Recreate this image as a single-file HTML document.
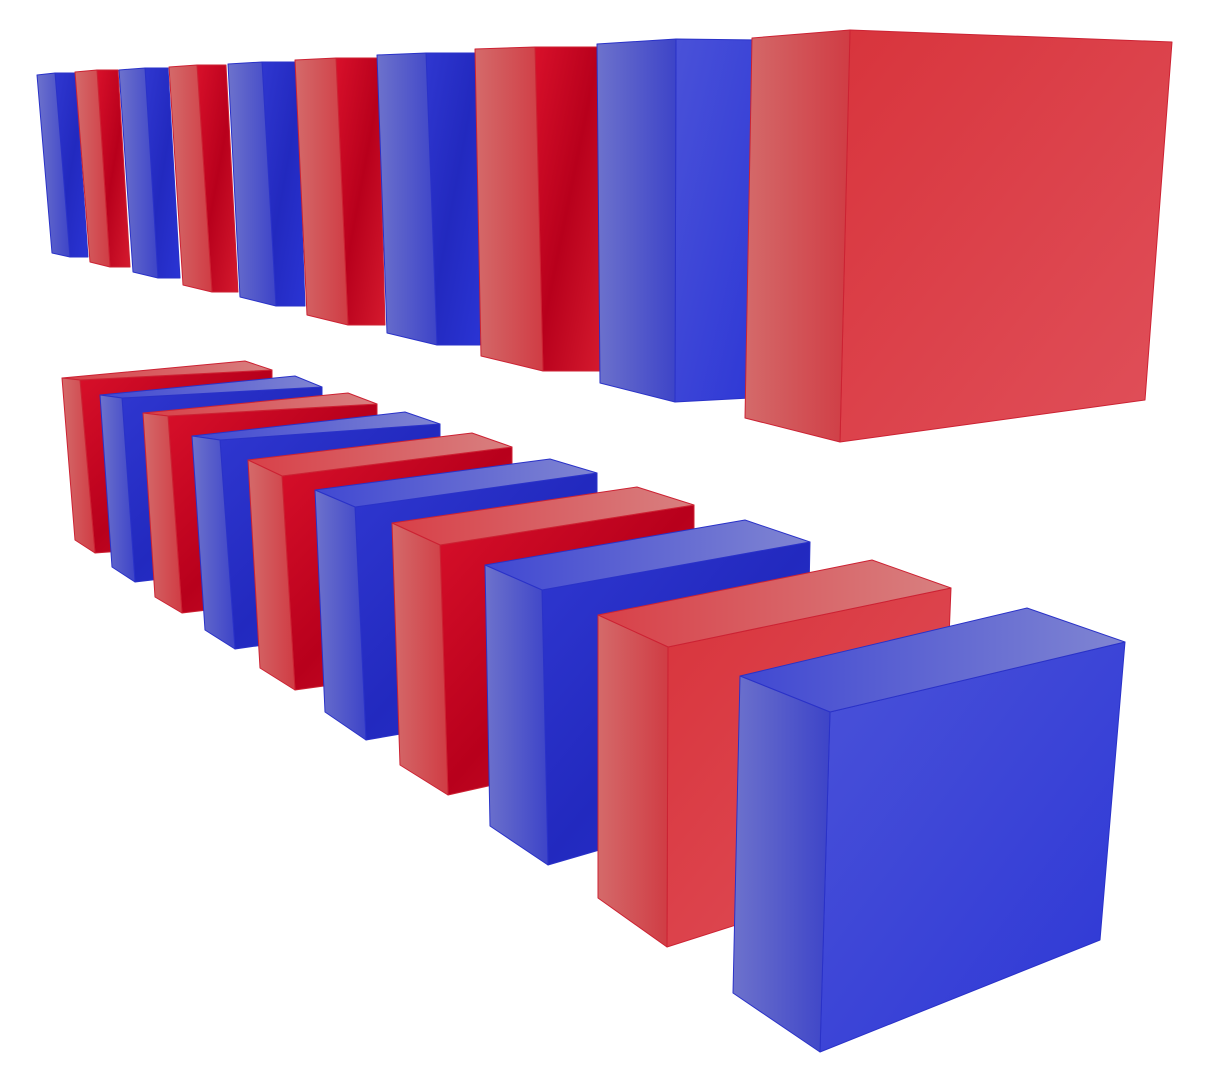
<!DOCTYPE html>
<html><head><meta charset="utf-8"><style>
html,body{margin:0;padding:0;background:#fff;width:1210px;height:1080px;overflow:hidden}
svg{display:block}
</style></head><body>
<svg id="scene" width="1210" height="1080" viewBox="0 0 1210 1080">
<defs>
<linearGradient id="bSide" x1="0" x2="1"><stop offset="0" stop-color="#6d72cc"/><stop offset="1" stop-color="#3d44c8"/></linearGradient>
<linearGradient id="bFront" x1="0" x2="1" y1="0" y2="1"><stop offset="0" stop-color="#2f37d0"/><stop offset="0.5" stop-color="#2229bf"/><stop offset="1" stop-color="#2a34d4"/></linearGradient>
<linearGradient id="bFront2" x1="0" x2="1" y1="0" y2="1"><stop offset="0" stop-color="#4a52d8"/><stop offset="1" stop-color="#2d37d6"/></linearGradient>
<linearGradient id="bTop" x1="0" x2="1"><stop offset="0" stop-color="#4048d2"/><stop offset="1" stop-color="#8085d2"/></linearGradient>
<linearGradient id="rSide" x1="0" x2="1"><stop offset="0" stop-color="#d46a6a"/><stop offset="1" stop-color="#d03c44"/></linearGradient>
<linearGradient id="rFront" x1="0" x2="1" y1="0" y2="1"><stop offset="0" stop-color="#d8102a"/><stop offset="0.5" stop-color="#b8001c"/><stop offset="1" stop-color="#d41a2e"/></linearGradient>
<linearGradient id="rFront2" x1="0" x2="1" y1="0" y2="1"><stop offset="0" stop-color="#d8343c"/><stop offset="1" stop-color="#e0505a"/></linearGradient>
<linearGradient id="rTop" x1="0" x2="1"><stop offset="0" stop-color="#d84048"/><stop offset="1" stop-color="#d88080"/></linearGradient>
</defs>
</svg>
<script>
const colors = ['b','r','b','r','b','r','b','r','b','r'];
const topSides = [
 [[37,75],[55,73],[70,257],[52,253]],
 [[75,72],[97,70],[110,267],[90,262]],
 [[119,70],[145,68],[158,278],[133,272]],
 [[169,67],[197,65],[212,292],[183,285]],
 [[228,64],[262,62],[276,306],[240,297]],
 [[295,60],[336,58],[348,325],[307,315]],
 [[377,55],[426,53],[437,345],[387,333]],
 [[475,49],[535,47],[543,371],[481,356]],
 [[597,44],[676,39],[675,402],[600,383]],
 [[752,38],[850,30],[840,442],[745,418]]];
const topFronts = [
 [[55,73],[75,73],[88,257],[70,257]],
 [[97,70],[118,70],[130,267],[110,267]],
 [[145,68],[168,68],[180,278],[158,278]],
 [[197,65],[226,65],[238,292],[212,292]],
 [[262,62],[296,62],[305,306],[276,306]],
 [[336,58],[378,58],[385,325],[348,325]],
 [[426,53],[476,53],[480,345],[437,345]],
 [[535,47],[600,47],[600,371],[543,371]],
 [[676,39],[760,40],[750,398],[675,402]],
 [[850,30],[1172,42],[1145,400],[840,442]]];
const botColors = ['r','b','r','b','r','b','r','b','r','b'];
const botSides = [
 [[62,378],[80,380],[95,553],[75,540]],
 [[100,395],[122,398],[135,582],[112,567]],
 [[143,413],[168,416],[182,613],[155,597]],
 [[192,436],[220,440],[235,649],[205,630]],
 [[248,460],[282,476],[295,690],[260,668]],
 [[315,490],[355,507],[366,740],[325,712]],
 [[392,523],[440,545],[448,795],[400,765]],
 [[485,565],[542,590],[548,865],[490,826]],
 [[598,615],[668,647],[667,947],[598,898]],
 [[740,676],[830,712],[820,1052],[733,993]]];
const botTops = [
 [[62,378],[245,361],[272,370],[80,380]],
 [[100,395],[295,376],[322,387],[122,398]],
 [[143,413],[348,393],[377,404],[168,416]],
 [[192,436],[405,412],[440,424],[220,440]],
 [[248,460],[472,433],[512,447],[282,476]],
 [[315,490],[550,459],[597,473],[355,507]],
 [[392,523],[637,487],[694,505],[440,545]],
 [[485,565],[745,520],[810,542],[542,590]],
 [[598,615],[872,560],[951,588],[668,647]],
 [[740,676],[1027,608],[1125,642],[830,712]]];
const botFronts = [
 [[80,380],[272,370],[272,540],[95,553]],
 [[122,398],[322,387],[322,560],[135,582]],
 [[168,416],[377,404],[377,590],[182,613]],
 [[220,440],[440,424],[440,620],[235,649]],
 [[282,476],[512,447],[512,660],[295,690]],
 [[355,507],[597,473],[597,700],[366,740]],
 [[440,545],[694,505],[694,740],[448,795]],
 [[542,590],[810,542],[805,790],[548,865]],
 [[668,647],[951,588],[940,860],[667,947]],
 [[830,712],[1125,642],[1100,940],[820,1052]]];
const svg = document.getElementById('scene');
const NS = 'http://www.w3.org/2000/svg';
function poly(pts, fill, c, name){
  const p = document.createElementNS(NS,'polygon');
  p.setAttribute('points', pts.map(q=>q.join(',')).join(' '));
  p.setAttribute('fill', fill);
  p.setAttribute('stroke', c==='r' ? '#cc2233' : '#2a32c8');
  p.setAttribute('stroke-width','1');
  p.setAttribute('stroke-linejoin','round');
  
  
  svg.appendChild(p);
}
for(let i=0;i<botSides.length;i++){
  const c = botColors[i];
  poly(botFronts[i], c==='b'?(i>7?'url(#bFront2)':'url(#bFront)'):(i>7?'url(#rFront2)':'url(#rFront)'), c, 'bottom-box-'+(i+1)+'-front');
  poly(botTops[i], 'url(#'+c+'Top)', c, 'bottom-box-'+(i+1)+'-top');
  poly(botSides[i], 'url(#'+c+'Side)', c, 'bottom-box-'+(i+1)+'-side');
}
for(let i=0;i<topSides.length;i++){
  const c = colors[i];
  poly(topFronts[i], c==='b'?(i>7?'url(#bFront2)':'url(#bFront)'):(i>7?'url(#rFront2)':'url(#rFront)'), c, 'top-box-'+(i+1)+'-front');
  poly(topSides[i], 'url(#'+c+'Side)', c, 'top-box-'+(i+1)+'-side');
}
</script>
</body></html>
